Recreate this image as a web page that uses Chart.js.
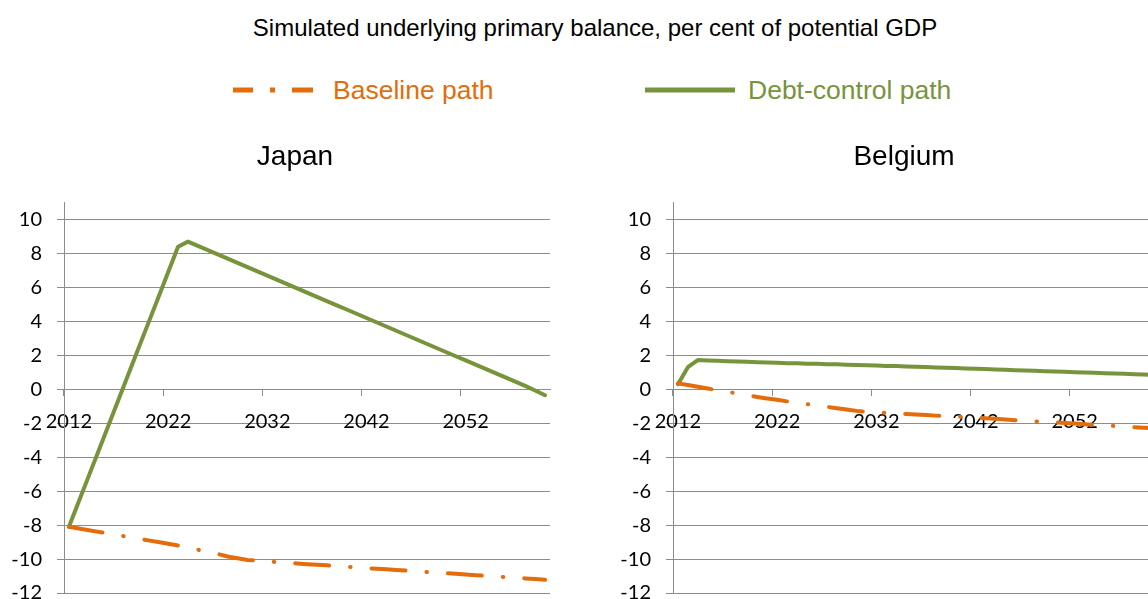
<!DOCTYPE html>
<html>
<head>
<meta charset="utf-8">
<script src="https://cdn.jsdelivr.net/npm/chart.js@4.4.1/dist/chart.umd.min.js"></script>
<style>
body { margin: 0; width: 1148px; height: 599px; overflow: hidden; background: #fff; position: relative; font-family: "Liberation Sans", Arial, sans-serif; }
#title { position: absolute; left: 0; width: 1190px; top: 14px; text-align: center; font-size: 24px; color: #000; }
.item { position: absolute; top: 74px; height: 32px; display: flex; align-items: center; font-size: 26.5px; }
.chartbox { position: absolute; top: 120px; width: 590px; height: 500px; }
</style>
</head>
<body>
<div id="title">Simulated underlying primary balance, per cent of potential GDP</div>
<div id="legend"></div>
<div class="chartbox" style="left:0"><canvas id="japan" width="590" height="500"></canvas></div>
<div class="chartbox" style="left:609px"><canvas id="belgium" width="590" height="500"></canvas></div>
<script>
const years = ["2012","2013","2014","2015","2016","2017","2018","2019","2020","2021",
               "2022","2023","2024","2025","2026","2027","2028","2029","2030","2031",
               "2032","2033","2034","2035","2036","2037","2038","2039","2040","2041",
               "2042","2043","2044","2045","2046","2047","2048","2049","2050","2051",
               "2052","2053","2054","2055","2056","2057","2058","2059","2060"];
const yTicks = [-12, -10, -8, -6, -4, -2, 0, 2, 4, 6, 8, 10];

const japanBaseline = [-8.1, -8.2, -8.3, -8.4, -8.5, -8.6, -8.7, -8.8, -8.9, -9.0,
    -9.1, -9.2, -9.35, -9.45, -9.6, -9.7, -9.85, -9.95, -10.05, -10.1,
    -10.14, -10.18, -10.22, -10.26, -10.3, -10.34, -10.37, -10.41, -10.45, -10.49,
    -10.53, -10.57, -10.6, -10.64, -10.68, -10.72, -10.76, -10.8, -10.83, -10.87,
    -10.91, -10.95, -10.99, -11.03, -11.06, -11.1, -11.14, -11.18, -11.22];
const japanDebtControl = [-8.1, -6.6, -5.1, -3.6, -2.1, -0.6, 0.9, 2.4, 3.9, 5.4,
    6.9, 8.4, 8.7, 8.45, 8.2, 7.95, 7.7, 7.45, 7.2, 6.95,
    6.7, 6.45, 6.2, 5.95, 5.7, 5.45, 5.2, 4.95, 4.7, 4.45,
    4.2, 3.95, 3.7, 3.45, 3.2, 2.95, 2.7, 2.45, 2.2, 1.95,
    1.7, 1.45, 1.2, 0.95, 0.7, 0.45, 0.2, -0.07, -0.35];
const belgiumBaseline = [0.35, 0.25, 0.15, 0.05, -0.05, -0.15, -0.25, -0.35, -0.45, -0.54,
    -0.62, -0.71, -0.79, -0.87, -0.95, -1.03, -1.11, -1.19, -1.27, -1.33,
    -1.36, -1.39, -1.42, -1.45, -1.48, -1.52, -1.55, -1.58, -1.61, -1.64,
    -1.67, -1.7, -1.74, -1.78, -1.82, -1.86, -1.89, -1.92, -1.95, -1.98,
    -2.02, -2.06, -2.09, -2.12, -2.16, -2.2, -2.23, -2.27, -2.3];
const belgiumDebtControl = [0.3, 1.3, 1.72, 1.7, 1.68, 1.66, 1.64, 1.62, 1.6, 1.58,
    1.56, 1.54, 1.53, 1.51, 1.5, 1.48, 1.47, 1.45, 1.43, 1.42,
    1.4, 1.38, 1.37, 1.35, 1.33, 1.31, 1.29, 1.27, 1.25, 1.23,
    1.21, 1.19, 1.17, 1.15, 1.13, 1.11, 1.09, 1.07, 1.05, 1.03,
    1.01, 0.99, 0.97, 0.95, 0.93, 0.91, 0.89, 0.87, 0.85];

const seriesNames = ["Baseline path", "Debt-control path"];
const orange = "#E46C0A";
const green = "#77933C";
const gridColor = "#8c8c8c";

// legend drawn once for both panels
const legendItems = [
    { name: seriesNames[0], color: orange, dash: "20 17 5 17 21", left: 233, width: 80, gap: 20 },
    { name: seriesNames[1], color: green, dash: "", left: 645, width: 90, gap: 13 }
];
const legend = document.getElementById("legend");
legendItems.forEach(it => {
    const div = document.createElement("div");
    div.className = "item";
    div.style.left = it.left + "px";
    div.style.color = it.color;
    div.innerHTML = '<svg width="' + it.width + '" height="10" style="margin-right:' + it.gap + 'px">' +
        '<line x1="0" y1="5" x2="' + it.width + '" y2="5" stroke="' + it.color +
        '" stroke-width="5" stroke-dasharray="' + it.dash + '"/></svg>' +
        '<span>' + it.name + '</span>';
    legend.appendChild(div);
});

// y axis box is kept narrow so the title centres like the original;
// widen its clip area afterwards so the tick labels are not cut off
const labelRoom = {
    id: "labelRoom",
    afterLayout: chart => { chart.scales.y.left = 0; }
};

function makeChart(id, country, baseline, debtControl)
{
    const ctx = document.getElementById(id);
    return new Chart(ctx, {
        type: "line",
        data: {
            labels: years,
            datasets: [
                {
                    label: seriesNames[0],
                    data: baseline,
                    borderColor: orange,
                    borderWidth: 4,
                    borderDash: [34, 21, 0.5, 21],
                    borderCapStyle: "round",
                    pointRadius: 0,
                    tension: 0
                },
                {
                    label: seriesNames[1],
                    data: debtControl,
                    borderColor: green,
                    borderWidth: 4,
                    borderCapStyle: "round",
                    borderJoinStyle: "round",
                    pointRadius: 0,
                    tension: 0
                }
            ]
        },
        plugins: [labelRoom],
        options: {
            responsive: false,
            animation: false,
            devicePixelRatio: 1,
            layout: { padding: { left: 40, right: 40, top: 0, bottom: 0 } },
            plugins: {
                legend: { display: false },
                tooltip: { enabled: false },
                title: {
                    display: true,
                    text: country,
                    color: "#000",
                    font: { family: "Liberation Sans", size: 28, weight: "normal" },
                    padding: { top: 20, bottom: 29 }
                }
            },
            scales: {
                x: {
                    position: { y: 0 },
                    offset: true,
                    grid: {
                        offset: true,
                        drawOnChartArea: false,
                        tickLength: 6,
                        color: c => (c.index % 10 === 0 && c.index < years.length) ? gridColor : "rgba(0,0,0,0)"
                    },
                    border: { color: gridColor, width: 1 },
                    ticks: {
                        autoSkip: false,
                        maxRotation: 0,
                        padding: 14,
                        color: "#000",
                        font: { family: "Lato", size: 20 },
                        callback: (v, i) => i % 10 === 0 ? years[i] : ""
                    }
                },
                y: {
                    min: -12,
                    max: 11,
                    afterBuildTicks: scale => { scale.ticks = yTicks.map(v => ({ value: v })); },
                    afterFit: scale => { scale.width = 24; },
                    grid: { color: gridColor, tickLength: 7 },
                    border: { color: gridColor, width: 1 },
                    ticks: {
                        padding: 15,
                        color: "#000",
                        font: { family: "Lato", size: 20 }
                    }
                }
            }
        }
    });
}

makeChart("japan", "Japan", japanBaseline, japanDebtControl);
makeChart("belgium", "Belgium", belgiumBaseline, belgiumDebtControl);
</script>
</body>
</html>
